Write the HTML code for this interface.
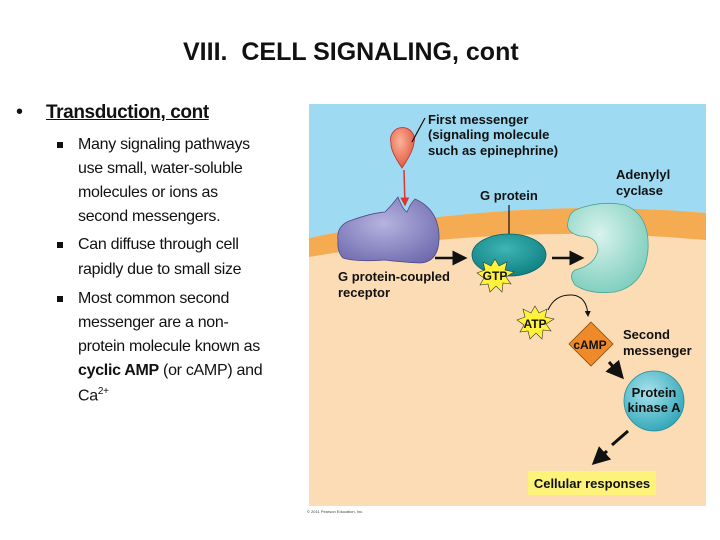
<!DOCTYPE html>
<html><head><meta charset="utf-8"><style>
body{margin:0;width:720px;height:540px;background:#fff;position:relative;overflow:hidden;font-family:"Liberation Sans",sans-serif;}
.t{position:absolute;white-space:nowrap;color:#111;}
.s{font-size:16px;letter-spacing:-0.3px;left:78px;}
.sq{position:absolute;width:6px;height:6px;background:#111;left:57px;}
</style></head><body>
<div class="t" style="left:183px;top:38px;font-size:25px;font-weight:bold;letter-spacing:0px;">VIII.&nbsp; CELL SIGNALING, cont</div>
<div class="t" style="left:16px;top:101px;font-size:20px;">•</div>
<div class="t" style="left:46px;top:102px;font-size:19px;font-weight:bold;text-decoration:underline;letter-spacing:-0.4px;">Transduction, cont</div>
<div class="sq" style="top:142px"></div>
<div class="t s" style="top:136px">Many signaling pathways</div>
<div class="t s" style="top:160px">use small, water-soluble</div>
<div class="t s" style="top:184px">molecules or ions as</div>
<div class="t s" style="top:208px">second messengers.</div>
<div class="sq" style="top:242px"></div>
<div class="t s" style="top:236px">Can diffuse through cell</div>
<div class="t s" style="top:261px">rapidly due to small size</div>
<div class="sq" style="top:296px"></div>
<div class="t s" style="top:290px">Most common second</div>
<div class="t s" style="top:314px">messenger are a non-</div>
<div class="t s" style="top:338px">protein molecule known as</div>
<div class="t s" style="top:362px"><b>cyclic AMP</b> (or cAMP) and</div>
<div class="t s" style="top:386px">Ca<sup style="font-size:10px">2+</sup></div>

<svg style="position:absolute;left:0;top:0" width="720" height="540" viewBox="0 0 720 540">
<defs>
<radialGradient id="pu" cx="0.45" cy="0.4" r="0.7"><stop offset="0" stop-color="#b6b3e0"/><stop offset="1" stop-color="#6e6aae"/></radialGradient>
<radialGradient id="te" cx="0.45" cy="0.35" r="0.7"><stop offset="0" stop-color="#3fb5b5"/><stop offset="1" stop-color="#0d7d80"/></radialGradient>
<radialGradient id="ac" cx="0.4" cy="0.35" r="0.7"><stop offset="0" stop-color="#d8f3ec"/><stop offset="1" stop-color="#7ccdbd"/></radialGradient>
<radialGradient id="pk" cx="0.4" cy="0.35" r="0.7"><stop offset="0" stop-color="#a6e2ea"/><stop offset="1" stop-color="#2ea5b8"/></radialGradient>
<radialGradient id="rd" cx="0.4" cy="0.35" r="0.7"><stop offset="0" stop-color="#fbb39a"/><stop offset="1" stop-color="#e0543a"/></radialGradient>
<marker id="ab" markerWidth="6" markerHeight="6" refX="5" refY="3" orient="auto"><path d="M0,0L6,3L0,6z" fill="#111"/></marker>
<marker id="ar" markerWidth="6" markerHeight="6" refX="5" refY="3" orient="auto"><path d="M0,0L6,3L0,6z" fill="#d33"/></marker>
</defs>
<rect x="309" y="104" width="397" height="402" fill="#fcdcb4"/>
<path d="M309,104H706V213Q510,196 309,238Z" fill="#9edbf3"/>
<path d="M309,238Q510,196 706,213V240Q510,222 309,257Z" fill="#f5ab52"/>
<path d="M402,168Q390,150 391,143A12,12 0 1 1 414,143Q413,152 402,168Z" fill="url(#rd)" stroke="#b33" stroke-width="0.8"/>
<line x1="412" y1="142" x2="425" y2="118" stroke="#111" stroke-width="1.2"/>
<line x1="404" y1="170" x2="405" y2="205" stroke="#d33" stroke-width="1.5" marker-end="url(#ar)"/>
<path d="M338,240Q336,225 352,220Q372,213 385,212Q392,205 398,197Q403,210 407,212Q410,204 415,199Q440,210 439,240Q438,262 420,263Q400,262 385,260Q355,262 343,258Q337,252 338,240Z" fill="url(#pu)" stroke="#4d4a8a" stroke-width="0.8"/>
<line x1="509" y1="205" x2="509" y2="235" stroke="#111" stroke-width="1.2"/>
<ellipse cx="509" cy="255" rx="37" ry="21" fill="url(#te)" stroke="#0a6466" stroke-width="0.8"/>
<line x1="435" y1="258" x2="465" y2="258" stroke="#111" stroke-width="2.5" marker-end="url(#ab)"/>
<line x1="552" y1="258" x2="582" y2="258" stroke="#111" stroke-width="2.5" marker-end="url(#ab)"/>
<path d="M575,210Q600,200 625,205Q650,215 648,250Q645,285 615,292Q590,295 575,285Q568,275 575,270Q595,265 598,250Q597,236 580,236Q565,232 568,222Q569,214 575,210Z" fill="url(#ac)" stroke="#4aa595" stroke-width="0.8"/>
<polygon points="495,259 499,266 507,262 505,270 514,272 506,277 511,284 503,283 502,292 496,286 490,292 488,284 480,285 484,278 477,273 485,270 483,262 491,266" fill="#fff23a" stroke="#333" stroke-width="0.6"/>
<text x="495" y="280" font-size="12" font-weight="bold" text-anchor="middle" fill="#111">GTP</text>
<polygon points="535,306 539,313 547,309 545,317 554,319 546,324 551,331 543,330 542,339 536,333 530,339 528,331 520,332 524,325 517,320 525,317 523,309 531,313" fill="#fff23a" stroke="#333" stroke-width="0.6"/>
<text x="535" y="328" font-size="12" font-weight="bold" text-anchor="middle" fill="#111">ATP</text>
<path d="M548,310Q555,294 572,295Q587,296 588,316" fill="none" stroke="#111" stroke-width="1" marker-end="url(#ab)"/>
<polygon points="591,322 613,344 591,366 569,344" fill="#ee8a2a" stroke="#8a4a10" stroke-width="0.8"/>
<text x="590" y="349" font-size="12" font-weight="bold" text-anchor="middle" fill="#111">cAMP</text>
<line x1="609" y1="362" x2="622" y2="377" stroke="#111" stroke-width="3" marker-end="url(#ab)"/>
<circle cx="654" cy="401" r="30" fill="url(#pk)" stroke="#2a8a9a" stroke-width="0.8"/>
<text x="654" y="397" font-size="13" font-weight="bold" text-anchor="middle" fill="#111">Protein</text>
<text x="654" y="412" font-size="13" font-weight="bold" text-anchor="middle" fill="#111">kinase A</text>
<line x1="628" y1="431" x2="612" y2="445" stroke="#111" stroke-width="3"/>
<line x1="607" y1="451" x2="594" y2="463" stroke="#111" stroke-width="3" marker-end="url(#ab)"/>
<rect x="528" y="471" width="128" height="24" fill="#fdf27a"/>
<text x="592" y="488" font-size="13" font-weight="bold" text-anchor="middle" fill="#111">Cellular responses</text>
<g font-size="13" font-weight="bold" fill="#111">
<text x="428" y="124">First messenger</text>
<text x="428" y="139">(signaling molecule</text>
<text x="428" y="155">such as epinephrine)</text>
<text x="480" y="200">G protein</text>
<text x="616" y="179">Adenylyl</text>
<text x="616" y="195">cyclase</text>
<text x="338" y="281">G protein-coupled</text>
<text x="338" y="297">receptor</text>
<text x="623" y="339">Second</text>
<text x="623" y="355">messenger</text>
</g>
<text x="307" y="513" font-size="4" fill="#444">© 2011 Pearson Education, Inc.</text>
</svg>
</body></html>
